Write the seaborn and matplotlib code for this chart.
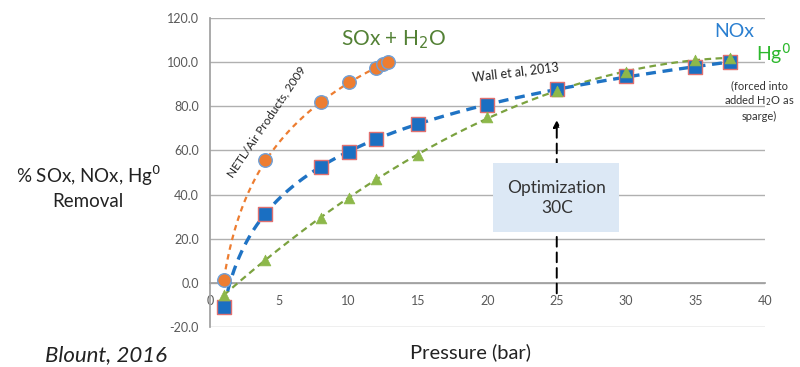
import numpy as np
import pandas as pd
import matplotlib
matplotlib.use("Agg")
import matplotlib.pyplot as plt
import seaborn as sns
from matplotlib.patches import Rectangle

# ---- data ----
sox_p = [1, 4, 8, 10, 12, 12.5, 12.8]
sox_r = [1.5, 55.5, 81.8, 91.0, 97.5, 99.0, 100.0]

nox_p = [1, 4, 8, 10, 12, 15, 20, 25, 30, 35, 37.5]
nox_r = [-11.0, 31.4, 52.7, 59.5, 65.0, 71.8, 80.5, 88.0, 93.5, 98.0, 100.0]

hg_p = [1, 4, 8, 10, 12, 15, 20, 25, 30, 35, 37.5]
hg_r = [-5.5, 10.5, 29.5, 38.6, 47.0, 58.0, 75.0, 87.0, 95.5, 101.0, 102.0]

x_ticks = [0, 5, 10, 15, 20, 25, 30, 35, 40]
y_ticks = [-20, 0, 20, 40, 60, 80, 100, 120]

sns.set_theme(style="white")
plt.rcParams["font.family"] = ["Lato", "DejaVu Sans"]

fig = plt.figure(figsize=(8.0, 3.67), dpi=100)
ax = fig.add_axes([0.2625, 0.109, 0.6935, 0.842])

# trend lines (fitted from the data)
def log_fit(x, y):
    x = np.asarray(x, float)
    c = np.polyfit(np.log(x), y, 1)
    xs = np.linspace(x.min(), x.max(), 200)
    return pd.DataFrame({"x": xs, "y": c[0] * np.log(xs) + c[1]})

def poly_fit(x, y, deg=2):
    x = np.asarray(x, float)
    c = np.polyfit(x, y, deg)
    xs = np.linspace(x.min(), x.max(), 200)
    return pd.DataFrame({"x": xs, "y": np.polyval(c, xs)})

c_or, c_bl, c_gr = "#ed7d31", "#1f73c4", "#7ba23f"

tr_g = poly_fit(hg_p, hg_r, 3)
tr_b = log_fit(nox_p, nox_r)
tr_o = log_fit(sox_p, sox_r)
sns.lineplot(data=tr_g, x="x", y="y", ax=ax, color=c_gr, lw=1.6,
             zorder=3).lines[-1].set_dashes([3, 2])
sns.lineplot(data=tr_b, x="x", y="y", ax=ax, color=c_bl, lw=2.4,
             zorder=3).lines[-1].set_dashes([3, 2])
sns.lineplot(data=tr_o, x="x", y="y", ax=ax, color=c_or, lw=1.6,
             zorder=3).lines[-1].set_dashes([2.5, 2])

sns.scatterplot(x=sox_p, y=sox_r, ax=ax, marker="o", s=95, color=c_or,
                edgecolor="#6fa0d8", linewidth=1.0, zorder=4)
sns.scatterplot(x=nox_p, y=nox_r, ax=ax, marker="s", s=115, color="#1a6fc2",
                edgecolor="#e07070", linewidth=1.0, zorder=5)
sns.scatterplot(x=hg_p, y=hg_r, ax=ax, marker="^", s=60, color="#8db84a",
                edgecolor="#8db84a", linewidth=0.5, zorder=6)

ax.set_xlim(0, 40)
ax.set_ylim(-20, 120)
ax.set_xticks(x_ticks)
ax.set_xticklabels([str(t) for t in x_ticks])
ax.set_yticks(y_ticks)
ax.set_yticklabels([f"{t:.1f}" for t in y_ticks])
ax.set_xlabel("")
ax.set_ylabel("")

ax.yaxis.grid(True, color="#b0b0b0", lw=1.0)
ax.xaxis.grid(False)
for s in ["top", "right"]:
    ax.spines[s].set_visible(False)
ax.spines["left"].set_color("#a0a0a0")
ax.spines["bottom"].set_color("#a0a0a0")
ax.spines["bottom"].set_position(("data", 0))
ax.tick_params(axis="x", colors="#a0a0a0", labelcolor="#595959", labelsize=9,
               length=4, width=0.8, direction="out", pad=5)
ax.tick_params(axis="y", colors="#a0a0a0", labelcolor="#595959", labelsize=9,
               length=4, width=0.8, direction="out", pad=4)

# optimization box and dashed arrow
ax.annotate("", xy=(25, 75), xytext=(25, -6),
            arrowprops=dict(arrowstyle="-|>", color="black", lw=1.4,
                            linestyle=(0, (5, 3)), mutation_scale=10),
            zorder=7)
ax.add_patch(Rectangle((20.4, 23.0), 9.1, 31.5, facecolor="#dce8f5",
                       edgecolor="none", zorder=8))
ax.text(25, 38.5, "Optimization\n30C", ha="center", va="center",
        fontsize=12.5, color="#333333", linespacing=1.3, zorder=9)

# annotations
ax.text(13.2, 110.0, "SOx + H$_2$O", color="#538135", fontsize=15,
        ha="center", va="center")
ax.text(37.8, 114.0, "NOx", color="#2a7fd0", fontsize=14,
        ha="center", va="center", clip_on=False)
ax.text(40.6, 103.8, "Hg$^0$", color="#2db82d", fontsize=14,
        ha="center", va="center", clip_on=False)
ax.text(39.6, 82.5, "(forced into\nadded H$_2$O as\nsparge)", color="#333333",
        fontsize=8, ha="center", va="center", linespacing=1.25, clip_on=False)
ax.text(4.1, 73, "NETL/Air Products, 2009", rotation=56, color="#222222",
        fontsize=8.5, ha="center", va="center", rotation_mode="anchor")
ax.text(22.0, 95.5, "Wall et al, 2013", rotation=7, color="#222222",
        fontsize=9, ha="center", va="center", rotation_mode="anchor")

fig.text(0.11, 0.49, "% SOx, NOx, Hg$^0$\nRemoval", ha="center", va="center",
         fontsize=13.5, color="#222222", linespacing=1.35)
fig.text(0.588, 0.04, "Pressure (bar)", ha="center", va="center",
         fontsize=14.5, color="#222222")
fig.text(0.132, 0.033, "Blount, 2016", ha="center", va="center",
         fontsize=16, color="#222222", style="italic")

fig.savefig("out.png", dpi=100)
